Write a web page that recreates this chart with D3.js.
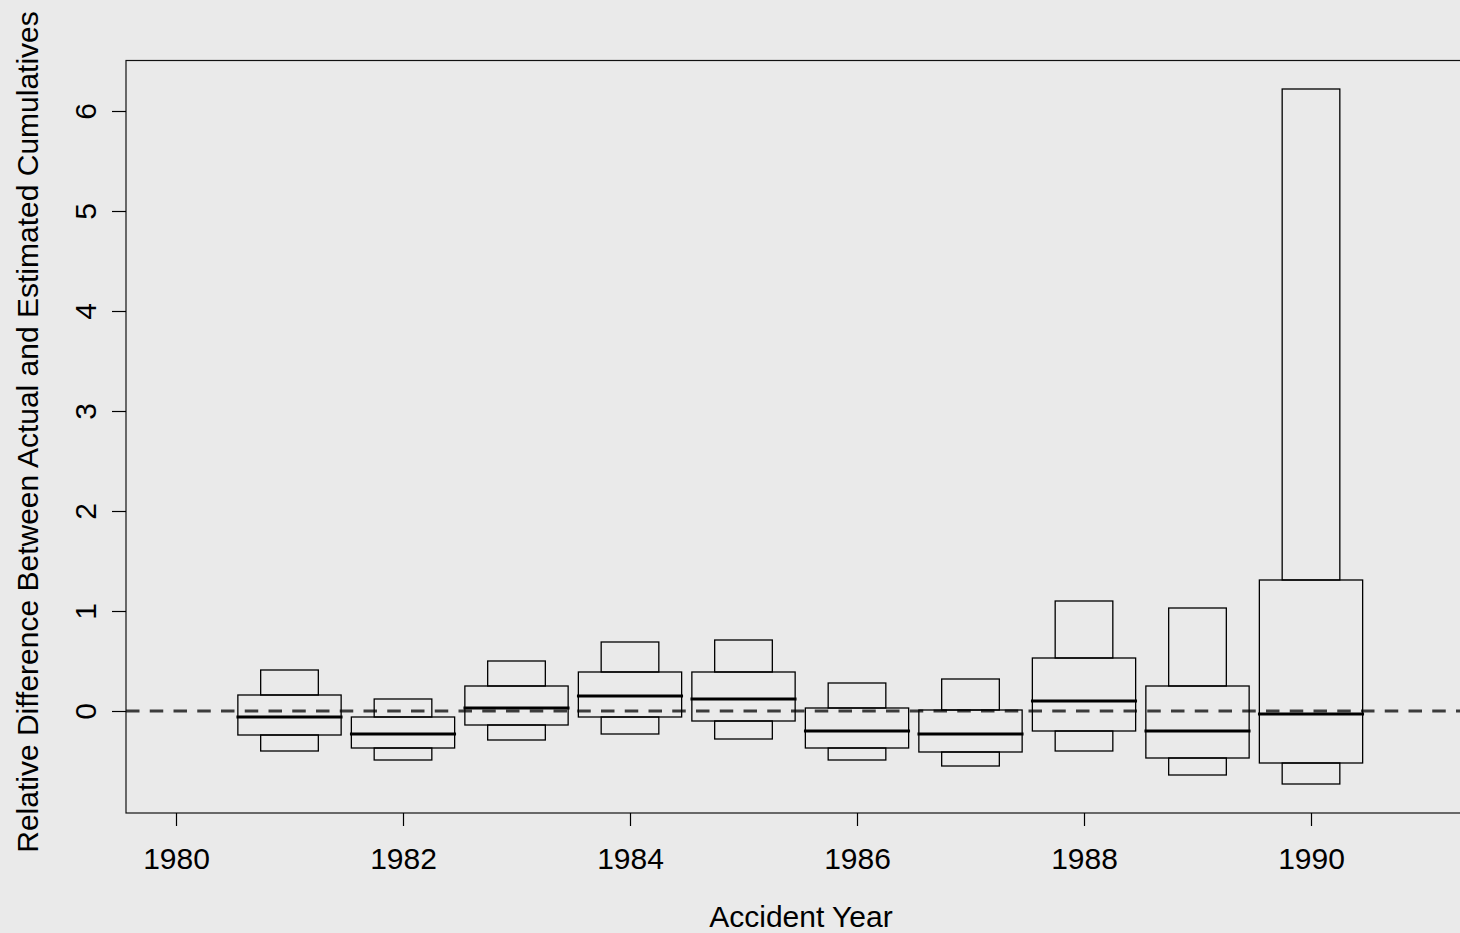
<!DOCTYPE html>
<html>
<head>
<meta charset="utf-8">
<script src="https://cdn.jsdelivr.net/npm/d3@7"></script>
<style>
  html, body { margin: 0; padding: 0; background: #eaeaea; overflow: hidden; }
  svg { display: block; }
  text { font-family: "Liberation Sans", Arial, sans-serif; fill: #000; }
</style>
</head>
<body>
<svg id="chart" width="1460" height="933"></svg>
<script>
// Accident years and the five summary levels drawn for each year
const years        = [1981, 1982, 1983, 1984, 1985, 1986, 1987, 1988, 1989, 1990];
const outerUpper   = [0.41, 0.12, 0.50, 0.69, 0.71, 0.28, 0.32, 1.10, 1.03, 6.22];
const innerUpper   = [0.16, -0.06, 0.25, 0.39, 0.39, 0.03, 0.01, 0.53, 0.25, 1.31];
const medians      = [-0.06, -0.23, 0.03, 0.15, 0.12, -0.20, -0.23, 0.10, -0.20, -0.03];
const innerLower   = [-0.24, -0.37, -0.14, -0.06, -0.10, -0.37, -0.41, -0.20, -0.47, -0.52];
const outerLower   = [-0.40, -0.49, -0.29, -0.23, -0.28, -0.49, -0.55, -0.40, -0.64, -0.73];

const xTicks = [1980, 1982, 1984, 1986, 1988, 1990];
const yTicks = [0, 1, 2, 3, 4, 5, 6];
const xTitle = "Accident Year";
const yTitle = "Relative Difference Between Actual and Estimated Cumulatives";

const rows = years.map((yr, i) => ({
  year: yr,
  hi: outerUpper[i], q3: innerUpper[i], med: medians[i], q1: innerLower[i], lo: outerLower[i]
}));

const frame = { left: 126, top: 60.5, right: 1476, bottom: 813 };

const svg = d3.select("#chart");
svg.append("rect").attr("width", 1460).attr("height", 933).attr("fill", "#eaeaea");

const x = d3.scaleLinear().domain([1980, 1990]).range([176, 1311]);
const y = d3.scaleLinear().domain([0, 6]).range([711, 111]);

const wideHalf = 0.455, narrowHalf = 0.254;

// zero reference line
svg.append("line")
  .attr("x1", frame.left).attr("x2", frame.right)
  .attr("y1", y(0)).attr("y2", y(0))
  .attr("stroke", "#3c3c3c").attr("stroke-width", 2.8)
  .attr("stroke-dasharray", "13.5,10.25");

const g = svg.append("g").selectAll("g").data(rows).join("g");

// upper narrow box
g.append("rect")
  .attr("x", d => x(d.year - narrowHalf))
  .attr("width", d => x(d.year + narrowHalf) - x(d.year - narrowHalf))
  .attr("y", d => y(d.hi))
  .attr("height", d => y(d.q3) - y(d.hi))
  .attr("fill", "none").attr("stroke", "#000").attr("stroke-width", 1.3);

// lower narrow box
g.append("rect")
  .attr("x", d => x(d.year - narrowHalf))
  .attr("width", d => x(d.year + narrowHalf) - x(d.year - narrowHalf))
  .attr("y", d => y(d.q1))
  .attr("height", d => y(d.lo) - y(d.q1))
  .attr("fill", "none").attr("stroke", "#000").attr("stroke-width", 1.3);

// central wide box
g.append("rect")
  .attr("x", d => x(d.year - wideHalf))
  .attr("width", d => x(d.year + wideHalf) - x(d.year - wideHalf))
  .attr("y", d => y(d.q3))
  .attr("height", d => y(d.q1) - y(d.q3))
  .attr("fill", "none").attr("stroke", "#000").attr("stroke-width", 1.3);

// median line
g.append("line")
  .attr("x1", d => x(d.year - wideHalf)).attr("x2", d => x(d.year + wideHalf))
  .attr("y1", d => y(d.med)).attr("y2", d => y(d.med))
  .attr("stroke", "#000").attr("stroke-width", 2.8).attr("stroke-linecap", "square");

// plot frame
svg.append("rect")
  .attr("x", frame.left).attr("y", frame.top)
  .attr("width", frame.right - frame.left).attr("height", frame.bottom - frame.top)
  .attr("fill", "none").attr("stroke", "#111").attr("stroke-width", 1.2);

// x axis
const xAxis = svg.append("g")
  .attr("transform", `translate(0,${frame.bottom})`)
  .call(d3.axisBottom(x).tickValues(xTicks).tickFormat(d3.format("d")).tickSize(13));
xAxis.select(".domain").remove();
xAxis.selectAll(".tick line").attr("stroke", "#000").attr("stroke-width", 1.2);
xAxis.selectAll(".tick text")
  .attr("y", 56).attr("dy", 0)
  .style("font-size", "30px").style("font-family", "'Liberation Sans', Arial, sans-serif");

// y axis
const yAxis = svg.append("g")
  .attr("transform", `translate(${frame.left},0)`)
  .call(d3.axisLeft(y).tickValues(yTicks).tickFormat(d3.format("d")).tickSize(14));
yAxis.select(".domain").remove();
yAxis.selectAll(".tick line").attr("stroke", "#000").attr("stroke-width", 1.2);
yAxis.selectAll(".tick text")
  .attr("x", null).attr("dy", null)
  .attr("text-anchor", "middle")
  .attr("transform", "translate(-30,0) rotate(-90)")
  .style("font-size", "30px").style("font-family", "'Liberation Sans', Arial, sans-serif");

// axis titles
svg.append("text")
  .attr("x", (frame.left + frame.right) / 2).attr("y", 927)
  .attr("text-anchor", "middle").style("font-size", "30px")
  .text(xTitle);

svg.append("text")
  .attr("transform", "translate(38,432) rotate(-90)")
  .attr("text-anchor", "middle").style("font-size", "30px")
  .text(yTitle);
</script>
</body>
</html>
